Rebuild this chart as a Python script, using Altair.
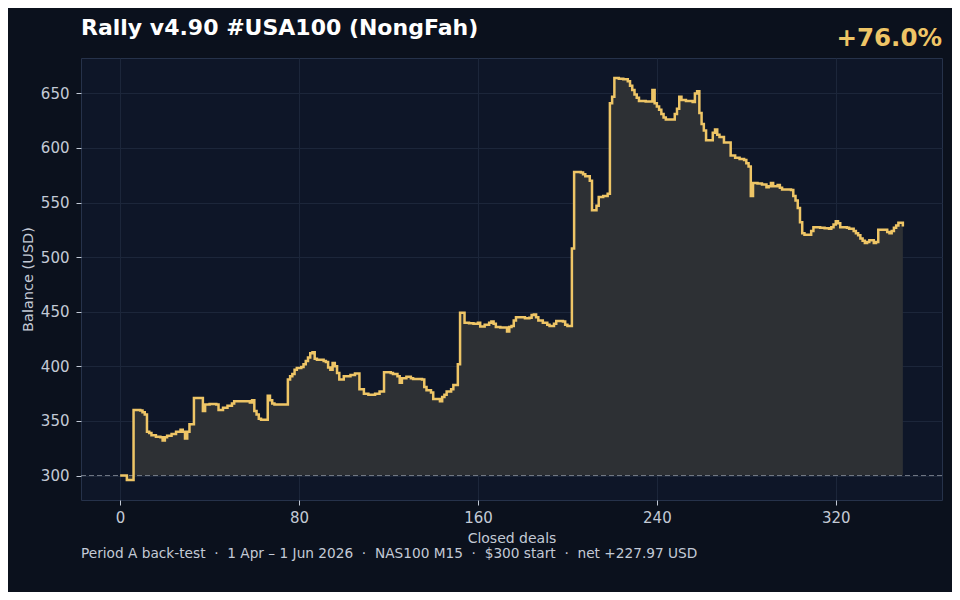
import altair as alt
import pandas as pd

# Step breakpoints: closed-deal number and account balance after it
deal_no = [0, 3, 6, 9, 10, 11, 12, 13, 14, 16, 18, 19, 20, 21, 23, 25, 27, 28, 29, 30,
           31, 33, 37, 38, 40, 43, 44, 46, 48, 50, 51, 56, 58, 59, 60, 61, 62, 63, 66, 67,
           68, 69, 75, 76, 77, 78, 79, 81, 82, 83, 84, 85, 86, 87, 88, 91, 92, 93, 94, 95,
           96, 97, 98, 100, 103, 105, 107, 109, 111, 114, 116, 118, 121, 122, 124, 125, 126, 128, 130, 131,
           135, 136, 137, 139, 140, 143, 144, 145, 146, 148, 149, 151, 152, 154, 156, 158, 160, 161, 163, 165,
           166, 167, 168, 170, 173, 174, 175, 176, 177, 181, 183, 184, 185, 186, 187, 189, 191, 192, 194, 195,
           198, 199, 200, 202, 203, 206, 207, 208, 210, 211, 213, 214, 216, 218, 219, 220, 221, 223, 225, 227,
           228, 229, 230, 231, 232, 235, 238, 239, 240, 241, 242, 243, 244, 247, 248, 249, 250, 251, 253, 256,
           257, 258, 259, 260, 261, 262, 264, 265, 266, 267, 268, 270, 272, 273, 275, 277, 279, 280, 281, 282,
           283, 285, 287, 289, 290, 291, 292, 294, 295, 296, 300, 301, 302, 303, 304, 305, 306, 308, 309, 310,
           313, 315, 317, 318, 319, 320, 321, 322, 325, 326, 328, 329, 330, 331, 332, 333, 334, 335, 337, 338,
           339, 341, 343, 344, 345, 346, 347, 348, 350]
balance = [300.0, 296.0, 360.0, 359.5, 358.0, 356.0, 340.0, 339.0, 337.0, 335.5, 335.0, 332.0, 335.0, 336.5, 338.0, 340.0, 342.0, 340.0, 334.0, 340.0,
           347.0, 371.0, 359.0, 365.0, 365.5, 365.0, 360.0, 362.0, 364.0, 366.0, 368.0, 368.0, 367.0, 369.0, 359.0, 356.0, 352.0, 351.0, 373.0, 369.0,
           366.0, 365.0, 388.0, 391.0, 393.0, 397.0, 398.5, 399.5, 402.0, 405.0, 408.0, 412.0, 413.0, 407.0, 406.0, 405.0, 404.0, 399.0, 397.0, 403.0,
           400.0, 394.0, 388.0, 391.0, 392.0, 393.5, 379.0, 375.0, 374.0, 375.0, 377.0, 394.5, 394.0, 393.0, 391.0, 385.0, 389.0, 390.5, 389.0, 388.5,
           388.0, 381.0, 378.0, 376.0, 370.0, 368.0, 372.0, 374.0, 377.0, 379.0, 383.0, 402.0, 449.0, 440.0, 439.5, 439.0, 440.0, 436.5, 438.0, 440.0,
           441.0, 439.0, 436.0, 435.5, 432.0, 436.0, 437.0, 442.0, 445.0, 444.0, 444.5, 447.0, 447.5, 445.0, 442.0, 440.0, 438.0, 437.0, 439.0, 441.5,
           441.0, 438.0, 437.0, 508.0, 578.0, 577.5, 576.0, 574.0, 570.0, 543.0, 547.0, 555.0, 556.0, 558.0, 641.0, 647.0, 664.0, 663.5, 663.0, 661.0,
           657.0, 653.0, 649.0, 646.0, 643.0, 642.5, 653.0, 641.0, 638.0, 635.0, 631.0, 628.0, 626.0, 626.0, 631.0, 636.0, 647.0, 644.0, 643.0, 642.0,
           650.0, 652.0, 632.0, 622.0, 616.0, 607.0, 607.0, 614.0, 617.0, 612.0, 610.0, 605.0, 605.0, 593.0, 591.0, 590.0, 589.0, 586.0, 583.0, 556.0,
           568.0, 567.5, 566.5, 564.0, 565.0, 568.0, 565.0, 566.0, 563.5, 562.0, 561.5, 556.0, 552.0, 545.0, 532.0, 522.0, 520.5, 520.5, 524.0, 527.5,
           527.0, 526.5, 526.0, 527.5, 530.0, 533.0, 531.0, 527.5, 527.0, 526.0, 524.0, 522.0, 520.0, 517.0, 515.0, 513.0, 514.0, 515.5, 513.0, 514.0,
           525.0, 525.0, 523.0, 522.0, 524.0, 527.0, 529.0, 531.5, 527.97]

start_balance = 300
title_text = "Rally v4.90 #USA100 (NongFah)"
gain_text = "+76.0%"
SEP = "\u00a0\u00a0·\u00a0\u00a0"
footer_parts = ["Period A back-test", "1 Apr – 1 Jun 2026", "NAS100 M15", "$300 start", "net +227.97 USD"]
footer_text = SEP.join(footer_parts)
x_ticks = [0, 80, 160, 240, 320]
y_ticks = [300, 350, 400, 450, 500, 550, 600, 650]

df = pd.DataFrame({"deal": deal_no, "balance": balance})
df["base"] = start_balance

W, H = 861, 442
FONT = "DejaVu Sans"
GOLD = "#eec566"
TXT = "#c3cad6"

xs = alt.Scale(domain=[-17.5, 367.5], nice=False, zero=False)
ys = alt.Scale(domain=[277.6, 682.4], nice=False, zero=False)

x_axis = alt.Axis(values=x_ticks, title="Closed deals", grid=True, gridColor="#1c263a",
                  domain=False, tickColor=TXT, tickSize=5, labelPadding=5,
                  labelColor=TXT, labelFontSize=15, labelFont=FONT,
                  titleColor=TXT, titleFontSize=14, titleFont=FONT, titleFontWeight="normal",
                  titlePadding=6)
y_axis = alt.Axis(values=y_ticks, title="Balance (USD)", grid=True, gridColor="#1c263a",
                  domain=False, tickColor=TXT, tickSize=5, labelPadding=7,
                  labelColor=TXT, labelFontSize=15, labelFont=FONT,
                  titleColor=TXT, titleFontSize=14.5, titleFont=FONT, titleFontWeight="normal",
                  titlePadding=5)

base = alt.Chart(df)

area = base.mark_area(interpolate="step-after", color="#2d3034", opacity=1).encode(
    x=alt.X("deal:Q", scale=xs, axis=x_axis),
    y=alt.Y("balance:Q", scale=ys, axis=y_axis),
    y2="base:Q",
)

ref = alt.Chart(pd.DataFrame({"y": [start_balance]})).mark_rule(
    color="#8b919c", strokeDash=[5, 3], strokeWidth=1, opacity=0.8
).encode(y=alt.Y("y:Q", scale=ys))

line = base.mark_line(interpolate="step-after", color=GOLD, strokeWidth=2.5).encode(
    x=alt.X("deal:Q", scale=xs),
    y=alt.Y("balance:Q", scale=ys),
)

title = alt.Chart(pd.DataFrame({"t": [title_text]})).mark_text(
    align="left", baseline="alphabetic", font=FONT, fontSize=22, fontWeight="bold", color="#ffffff"
).encode(text="t:N", x=alt.value(0), y=alt.value(-23))

gain = alt.Chart(pd.DataFrame({"t": [gain_text]})).mark_text(
    align="right", baseline="alphabetic", font=FONT, fontSize=24.5, fontWeight="bold", color=GOLD
).encode(text="t:N", x=alt.value(W), y=alt.value(-12))

footer = alt.Chart(pd.DataFrame({"t": [footer_text]})).mark_text(
    align="left", baseline="middle", font=FONT, fontSize=13.7, color=TXT
).encode(text="t:N", x=alt.value(0), y=alt.value(496))

chart = alt.layer(area, ref, line, title, gain, footer).properties(
    width=W, height=H,
    background="#0b111d",
    padding={"left": 73, "top": 50, "right": 10, "bottom": 92},
    autosize=alt.AutoSizeParams(type="none"),
).configure_view(
    fill="#0e1628", stroke="#26324a", strokeWidth=1
)

chart.save("out.html", embed_options={"renderer": "svg", "actions": False})
